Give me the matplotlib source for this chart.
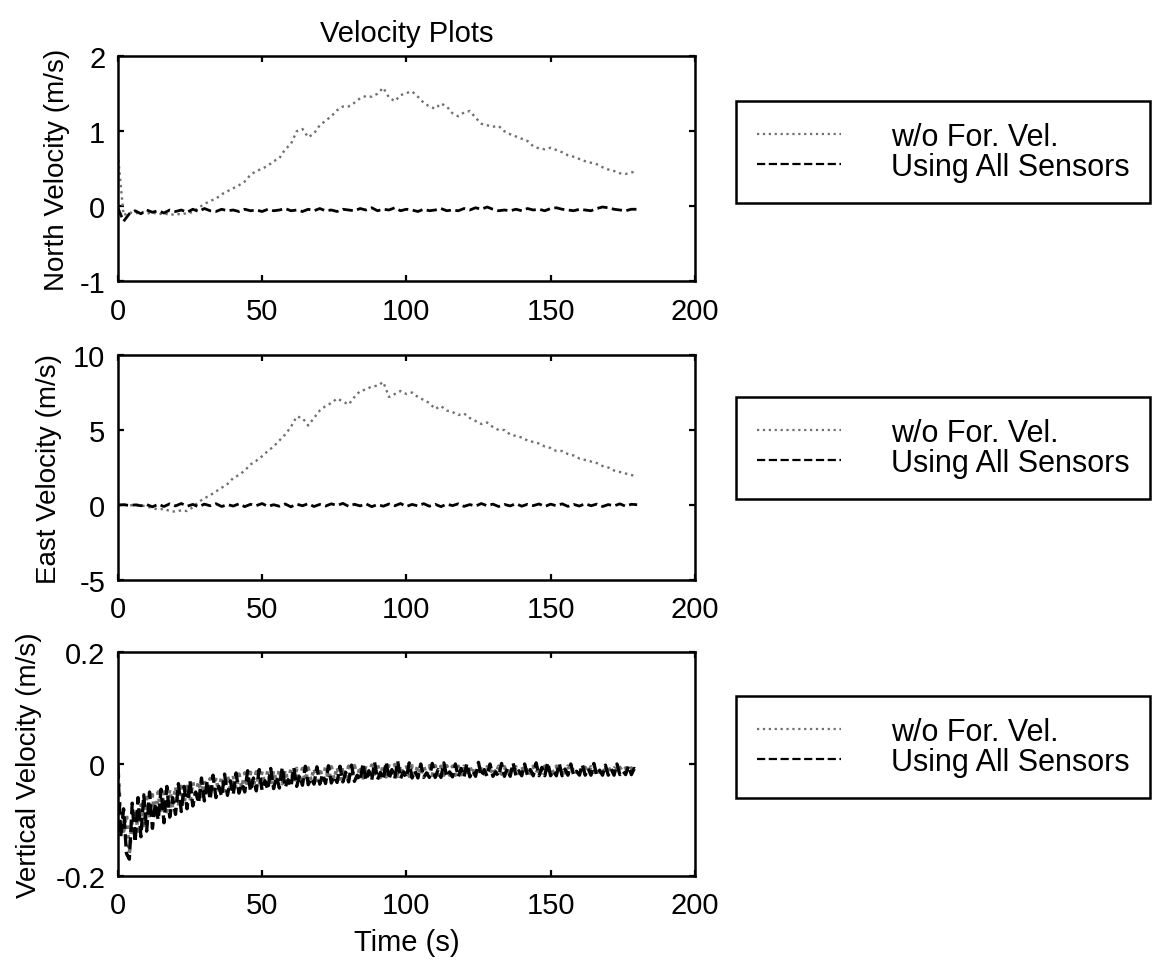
import numpy as np
import matplotlib
matplotlib.use("Agg")
import matplotlib.pyplot as plt


# sample times (s)
t_slow = np.arange(0, 182, 2)    # north / east records, every 2 s
t_fast = np.arange(0, 181, 1)    # vertical record, every 1 s

north_wo = [
    0.70, -0.12, -0.08, -0.10, -0.07, -0.10, -0.08, -0.11, -0.09, -0.12,
    -0.10, -0.11, -0.09, -0.08, -0.02, 0.03, 0.07, 0.10, 0.16, 0.20,
    0.24, 0.28, 0.33, 0.42, 0.47, 0.50, 0.54, 0.60, 0.64, 0.76,
    0.83, 1.00, 1.03, 0.92, 0.97, 1.08, 1.14, 1.20, 1.28, 1.33,
    1.33, 1.38, 1.44, 1.47, 1.46, 1.50, 1.58, 1.45, 1.40, 1.48,
    1.51, 1.53, 1.46, 1.38, 1.33, 1.30, 1.37, 1.33, 1.24, 1.20,
    1.25, 1.27, 1.18, 1.10, 1.08, 1.06, 1.07, 1.00, 0.96, 0.93,
    0.90, 0.87, 0.80, 0.77, 0.76, 0.78, 0.75, 0.72, 0.68, 0.66,
    0.63, 0.60, 0.58, 0.56, 0.52, 0.49, 0.47, 0.44, 0.43, 0.45,
    0.47,
]
north_all = [
    -0.02, -0.20, -0.10, -0.06, -0.10, -0.05, -0.08, -0.06, -0.09, -0.05,
    -0.07, -0.05, -0.08, -0.04, -0.07, -0.03, -0.06, -0.07, -0.04, -0.06,
    -0.05, -0.07, -0.04, -0.06, -0.05, -0.07, -0.04, -0.06, -0.05, -0.03,
    -0.06, -0.05, -0.07, -0.04, -0.06, -0.03, -0.06, -0.05, -0.07, -0.04,
    -0.05, -0.06, -0.03, -0.05, -0.02, -0.06, -0.04, -0.05, -0.02, -0.06,
    -0.04, -0.05, -0.07, -0.04, -0.06, -0.05, -0.03, -0.06, -0.05, -0.06,
    -0.03, -0.05, -0.02, -0.04, -0.01, -0.04, -0.06, -0.05, -0.06, -0.04,
    -0.06, -0.03, -0.05, -0.04, -0.06, -0.03, -0.02, -0.04, -0.05, -0.06,
    -0.04, -0.05, -0.06, -0.03, -0.01, -0.02, -0.04, -0.05, -0.06, -0.04,
    -0.04,
]

east_wo = [
    0.00, 0.05, -0.05, 0.05, -0.02, -0.10, -0.20, -0.30, -0.25, -0.40,
    -0.45, -0.35, -0.40, -0.15, 0.20, 0.45, 0.65, 0.90, 1.15, 1.40,
    1.80, 2.00, 2.30, 2.70, 2.95, 3.25, 3.60, 3.90, 4.30, 4.70,
    5.20, 5.90, 5.80, 5.30, 5.80, 6.30, 6.60, 6.80, 7.10, 6.90,
    6.70, 7.20, 7.60, 7.70, 7.90, 7.95, 8.20, 7.20, 7.40, 7.60,
    7.40, 7.50, 7.20, 7.00, 6.80, 6.40, 6.60, 6.30, 6.20, 6.00,
    6.10, 5.80, 5.60, 5.40, 5.50, 5.20, 5.00, 5.00, 4.70, 4.60,
    4.50, 4.30, 4.20, 4.10, 3.90, 3.80, 3.60, 3.60, 3.40, 3.30,
    3.10, 3.00, 2.90, 2.80, 2.60, 2.50, 2.30, 2.20, 2.10, 2.00,
    1.90,
]
east_all = [
    0.00, 0.02, -0.03, 0.01, -0.05, 0.03, -0.12, 0.05, -0.10, 0.08,
    -0.06, 0.10, -0.08, 0.04, -0.12, 0.06, -0.05, 0.09, -0.10, 0.03,
    -0.07, 0.08, -0.11, 0.05, -0.04, 0.10, -0.09, 0.02, -0.08, 0.07,
    -0.12, 0.06, -0.05, 0.09, -0.10, 0.04, -0.07, 0.08, -0.03, 0.11,
    -0.09, 0.05, -0.06, 0.08, -0.11, 0.03, -0.08, 0.07, -0.05, 0.10,
    -0.10, 0.04, -0.06, 0.09, -0.08, 0.05, -0.11, 0.06, -0.04, 0.08,
    -0.09, 0.03, -0.07, 0.10, -0.05, 0.06, -0.10, 0.04, -0.06, 0.09,
    -0.08, 0.05, -0.04, 0.07, -0.10, 0.06, -0.05, 0.08, -0.09, 0.04,
    -0.07, 0.09, -0.05, 0.06, -0.10, 0.03, -0.06, 0.08, -0.08, 0.05,
    0.02,
]

vert_wo = [
    0.000, -0.100, -0.120, -0.090, -0.160, -0.100, -0.080, -0.120, -0.070, -0.110,
    -0.060, -0.100, -0.055, -0.095, -0.050, -0.090, -0.050, -0.085, -0.045, -0.080,
    -0.040, -0.075, -0.040, -0.070, -0.035, -0.068, -0.032, -0.062, -0.030, -0.058,
    -0.030, -0.055, -0.026, -0.052, -0.024, -0.050, -0.022, -0.048, -0.020, -0.046,
    -0.020, -0.045, -0.018, -0.043, -0.016, -0.042, -0.015, -0.040, -0.014, -0.039,
    -0.013, -0.038, -0.012, -0.037, -0.011, -0.036, -0.010, -0.035, -0.010, -0.034,
    -0.009, -0.033, -0.008, -0.032, -0.008, -0.031, -0.007, -0.030, -0.007, -0.030,
    -0.006, -0.029, -0.006, -0.028, -0.005, -0.028, -0.005, -0.027, -0.004, -0.027,
    -0.004, -0.026, -0.003, -0.026, -0.003, -0.025, -0.002, -0.025, -0.002, -0.024,
    -0.001, -0.024, -0.001, -0.023, 0.000, -0.023, -0.001, -0.022, -0.002, -0.022,
    -0.002, -0.022, -0.003, -0.021, -0.002, -0.021, -0.003, -0.021, -0.003, -0.020,
    -0.003, -0.020, -0.004, -0.020, -0.003, -0.020, -0.004, -0.020, -0.004, -0.019,
    -0.004, -0.019, -0.004, -0.019, -0.005, -0.019, -0.005, -0.018, -0.005, -0.018,
    -0.005, -0.018, -0.004, -0.018, -0.005, -0.018, -0.004, -0.017, -0.005, -0.017,
    -0.004, -0.017, -0.005, -0.017, -0.004, -0.017, -0.005, -0.016, -0.004, -0.016,
    -0.005, -0.016, -0.004, -0.016, -0.005, -0.016, -0.004, -0.016, -0.005, -0.015,
    -0.005, -0.015, -0.006, -0.015, -0.005, -0.015, -0.006, -0.015, -0.006, -0.014,
    -0.006, -0.014, -0.007, -0.014, -0.006, -0.014, -0.007, -0.014, -0.007, -0.013,
    -0.010,
]
vert_all = [
    -0.005, -0.130, -0.080, -0.160, -0.170, -0.070, -0.140, -0.060, -0.130, -0.055,
    -0.120, -0.050, -0.115, -0.070, -0.100, -0.045, -0.105, -0.040, -0.095, -0.060,
    -0.090, -0.035, -0.085, -0.040, -0.080, -0.030, -0.075, -0.050, -0.070, -0.025,
    -0.066, -0.030, -0.064, -0.020, -0.060, -0.040, -0.058, -0.018, -0.056, -0.030,
    -0.055, -0.016, -0.052, -0.035, -0.050, -0.012, -0.049, -0.025, -0.048, -0.010,
    -0.047, -0.030, -0.046, -0.008, -0.044, -0.022, -0.043, -0.006, -0.042, -0.028,
    -0.041, -0.006, -0.040, -0.020, -0.038, -0.004, -0.037, -0.025, -0.036, -0.005,
    -0.036, -0.018, -0.035, -0.003, -0.034, -0.022, -0.033, -0.004, -0.032, -0.015,
    -0.032, -0.002, -0.031, -0.020, -0.030, 0.001, -0.030, -0.012, -0.029, 0.003,
    -0.028, -0.015, -0.028, 0.004, -0.027, -0.010, -0.026, 0.005, -0.026, -0.014,
    -0.025, 0.002, -0.025, -0.012, -0.025, 0.000, -0.024, -0.016, -0.024, 0.001,
    -0.024, -0.010, -0.024, 0.002, -0.023, -0.014, -0.023, 0.000, -0.023, -0.008,
    -0.023, 0.001, -0.023, -0.012, -0.022, 0.003, -0.022, -0.010, -0.022, 0.000,
    -0.022, -0.014, -0.022, 0.001, -0.022, -0.008, -0.022, 0.002, -0.021, -0.012,
    -0.021, 0.000, -0.021, -0.010, -0.021, 0.002, -0.021, -0.006, -0.021, 0.003,
    -0.021, -0.012, -0.021, 0.001, -0.021, -0.009, -0.020, 0.000, -0.020, -0.013,
    -0.020, -0.001, -0.020, -0.008, -0.020, 0.001, -0.020, -0.011, -0.020, -0.002,
    -0.020, -0.009, -0.020, 0.000, -0.019, -0.012, -0.019, -0.003, -0.019, -0.008,
    -0.012,
]

legend_labels = ["w/o For. Vel.", "Using All Sensors"]

PANELS = [
    # (times, w/o, all sensors, ylabel, ylim, yticks, yticklabels, label x, axes rect, legend top)
    (t_slow, north_wo, north_all, "North Velocity (m/s)", (-1, 2), [-1, 0, 1, 2],
     ["-1", "0", "1", "2"], -0.083, [0.102, 0.709, 0.4996, 0.232], 0.8948),
    (t_slow, east_wo, east_all, "East Velocity (m/s)", (-5, 10), [-5, 0, 5, 10],
     ["-5", "0", "5", "10"], -0.097, [0.102, 0.401, 0.4996, 0.232], 0.5897),
    (t_fast, vert_wo, vert_all, "Vertical Velocity (m/s)", (-0.2, 0.2), [-0.2, 0, 0.2],
     ["-0.2", "0", "0.2"], -0.132, [0.102, 0.0959, 0.4996, 0.2309], 0.2814),
]

plt.rcParams["font.family"] = ["Liberation Sans", "DejaVu Sans"]


def style_axes(ax):
    for spine in ax.spines.values():
        spine.set_linewidth(1.8)
    ax.tick_params(direction="in", length=4.5, width=1.6, labelsize=21,
                   top=True, right=True)
    ax.tick_params(axis="x", pad=11)
    ax.tick_params(axis="y", pad=9)


fig = plt.figure(figsize=(11.55, 9.70), dpi=100)

axes = []
for i, (times, wo, alls, ylabel, ylim, yticks, yticklabels, lab_x, rect, leg_top) in enumerate(PANELS):
    ax = fig.add_axes(rect)
    # the dense vertical record is drawn heavier so the noise band fills in
    heavy = i == 2
    ax.plot(times, wo, color="#707070", linestyle=":",
            linewidth=2.6 if heavy else 1.7, label=legend_labels[0])
    ax.plot(times, alls, color="black", linestyle="--",
            linewidth=2.4 if heavy else 2.0, label=legend_labels[1])
    ax.set_xlim(0, 200)
    ax.set_ylim(*ylim)
    ax.set_xticks([0, 50, 100, 150, 200])
    ax.set_yticks(yticks)
    ax.set_yticklabels(yticklabels)
    ax.set_ylabel(ylabel, fontsize=20)
    ax.yaxis.set_label_coords(lab_x, 0.5)
    style_axes(ax)

    leg = ax.legend(loc="upper left", bbox_to_anchor=(0.637, leg_top),
                    bbox_transform=fig.transFigure, borderaxespad=0,
                    fontsize=22, handlelength=2.75, handletextpad=1.65,
                    borderpad=0.68, labelspacing=0.0, fancybox=False,
                    framealpha=1)
    leg.get_frame().set_edgecolor("black")
    leg.get_frame().set_linewidth(1.8)
    for line in leg.get_lines():
        line.set_linewidth(1.6)
    axes.append(ax)

axes[0].set_title("Velocity Plots", fontsize=21, pad=11)
axes[-1].set_xlabel("Time (s)", fontsize=21, labelpad=6)

fig.savefig("out.png", dpi=100, facecolor="white")
